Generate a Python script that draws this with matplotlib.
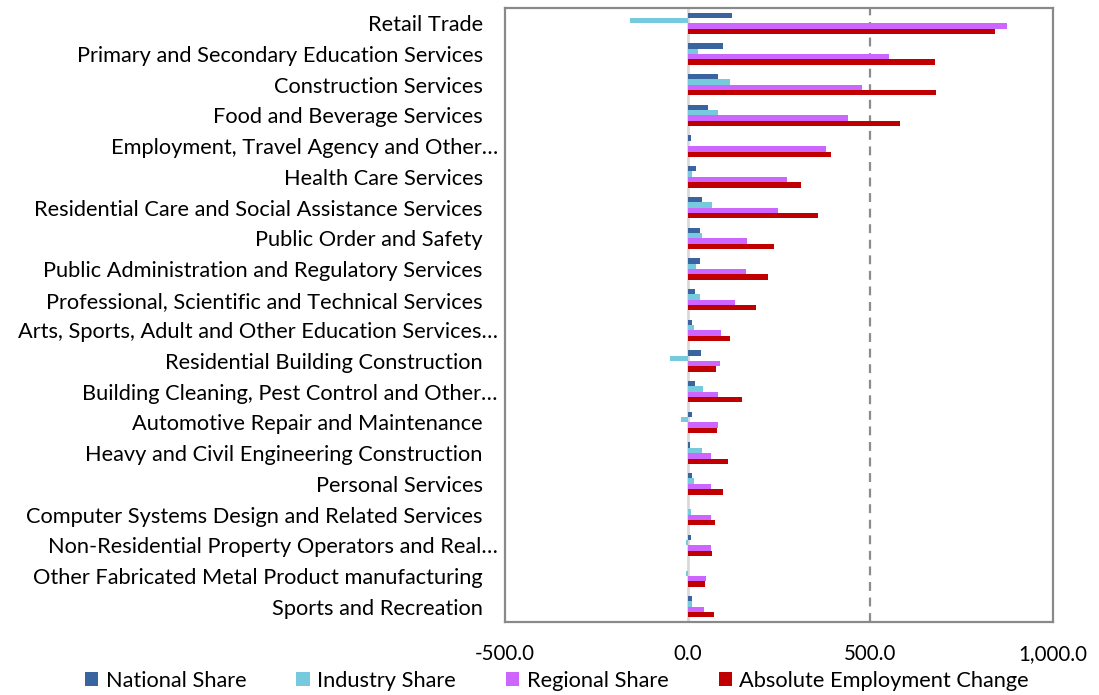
import matplotlib
matplotlib.use("Agg")
import matplotlib.pyplot as plt
import matplotlib.transforms as mtransforms
from matplotlib.patches import Patch
import numpy as np

categories = [
    "Retail Trade",
    "Primary and Secondary Education Services",
    "Construction Services",
    "Food and Beverage Services",
    "Employment, Travel Agency and Other…",
    "Health Care Services",
    "Residential Care and Social Assistance Services",
    "Public Order and Safety",
    "Public Administration and Regulatory Services",
    "Professional, Scientific and Technical Services",
    "Arts, Sports, Adult and Other Education Services…",
    "Residential Building Construction",
    "Building Cleaning, Pest Control and Other…",
    "Automotive Repair and Maintenance",
    "Heavy and Civil Engineering Construction",
    "Personal Services",
    "Computer Systems Design and Related Services",
    "Non-Residential Property Operators and Real…",
    "Other Fabricated Metal Product manufacturing",
    "Sports and Recreation",
]
national_share = [122, 97, 83, 56, 8, 22, 39, 33, 34, 20, 11, 37, 19, 11, 7, 13, 1, 8, 0, 11]
industry_share = [-159, 28, 117, 84, 2, 12, 67, 39, 24, 35, 16, -48, 43, -17, 39, 17, 10, -5, -5, 13]
regional_share = [874, 550, 478, 438, 379, 273, 247, 162, 161, 130, 90, 89, 84, 83, 65, 65, 63, 63, 51, 46]
absolute_change = [841, 677, 681, 581, 393, 311, 358, 237, 221, 186, 117, 78, 148, 79, 111, 97, 76, 66, 47, 71]
series_names = ["National Share", "Industry Share", "Regional Share", "Absolute Employment Change"]
series_colors = ["#3A64A0", "#77C9DD", "#CC66FF", "#C00000"]
x_ticks = [-500, 0, 500, 1000]
x_tick_labels = ["-500.0", "0.0", "500.0", "1,000.0"]

plt.rcParams['font.family'] = ['Lato', 'DejaVu Sans']
FS = 15.7
FS_X = 14.8

fig = plt.figure(figsize=(10.99, 6.95), dpi=100)
ax = fig.add_axes([505 / 1099, 1 - 622 / 695, (1053 - 505) / 1099, (622 - 8) / 695])

y = np.arange(len(categories))
w = 0.175
all_series = [national_share, industry_share, regional_share, absolute_change]
for i, (vals, col, name) in enumerate(zip(all_series, series_colors, series_names)):
    ax.barh(y + (i - 1.5) * w, vals, height=w, color=col, label=name, zorder=3)

ax.axvline(0, color="#D9D9D9", lw=2, zorder=2)
ax.axvline(500, color="#8C8C8C", lw=1.6, ls=(0, (4, 3)), zorder=2)

ax.set_xlim(-500, 1000)
ax.set_ylim(len(categories) - 0.5, -0.5)
ax.set_xticks(x_ticks)
ax.set_xticklabels(x_tick_labels, fontsize=FS_X)
ax.set_yticks(y)
ax.set_yticklabels(categories, fontsize=FS)
ax.tick_params(axis='both', length=0)
ax.tick_params(axis='y', pad=16)
ax.tick_params(axis='x', pad=16)

for lab in ax.get_yticklabels():
    if lab.get_text().endswith("…"):
        off = mtransforms.ScaledTranslation(15 / 100, 0, fig.dpi_scale_trans)
        lab.set_transform(lab.get_transform() + off)

for s in ax.spines.values():
    s.set_color("#898989")
    s.set_linewidth(1.6)

handles = [Patch(facecolor=c, label=n) for c, n in zip(series_colors, series_names)]
fig.legend(handles=handles, loc='center', bbox_to_anchor=(557 / 1099, 1 - 681 / 695),
           ncol=4, frameon=False, fontsize=FS, handlelength=0.6, handleheight=0.6,
           handletextpad=0.35, columnspacing=2.3, borderaxespad=0)

fig.savefig("out.png", dpi=100)
